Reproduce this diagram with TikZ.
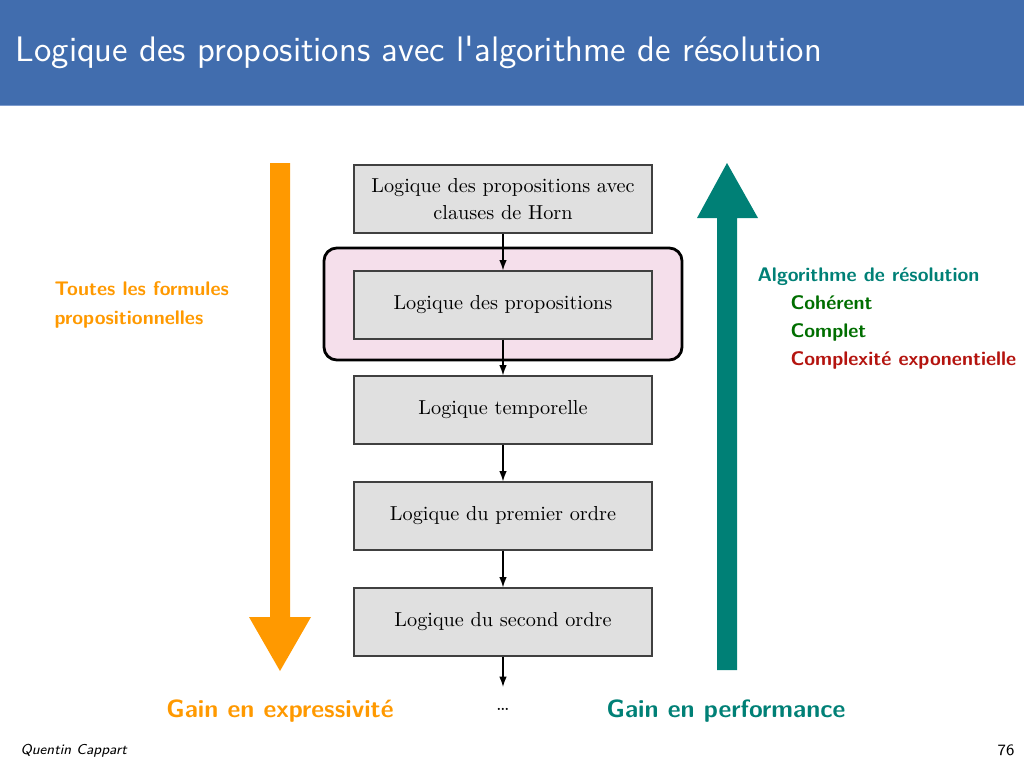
\documentclass[tikz,border=0pt]{standalone}
\usepackage{fontspec}
\usepackage{tikz}
\usetikzlibrary{arrows.meta}

\newfontfamily\boxfont{lmroman10-regular.otf}

\definecolor{barblue}{RGB}{65,109,174}
\definecolor{barline}{RGB}{125,155,205}
\definecolor{orangeA}{RGB}{255,153,0}
\definecolor{tealA}{RGB}{0,128,118}
\definecolor{greenA}{RGB}{0,110,0}
\definecolor{redA}{RGB}{180,20,15}
\definecolor{pinkbg}{RGB}{245,223,235}
\definecolor{boxgray}{RGB}{224,224,224}

\tikzset{
  logic/.style={draw=black!75, line width=0.4pt, fill=boxgray, minimum width=37.25mm,
    minimum height=8.5mm, align=center, font=\boxfont\fontsize{7.2}{9.6}\selectfont},
  flow/.style={-{Latex[length=1.3mm,width=0.95mm]}, line width=0.5pt},
  note/.style={anchor=base west, inner sep=0pt, align=left,
    font=\fontsize{7}{10}\selectfont\sffamily\bfseries},
  gain/.style={anchor=base, inner sep=0pt, font=\fontsize{8.9}{10}\selectfont\sffamily\bfseries},
}

\begin{document}
\begin{tikzpicture}[x=0.125mm, y=-0.125mm]
        \useasboundingbox (0,0) rectangle (1024,768);
        % title bar
        \fill[barblue] (0,0) rectangle (1024,105);
        \fill[barline] (0,104.5) rectangle (1024,106);
        \node[anchor=base west, inner sep=0pt, text=white, font=\fontsize{12.6}{14}\selectfont\sffamily]
                (title) at (15,62) {Logique des propositions avec l\textquotesingle algorithme de r\'esolution};

        % big arrows
        \fill[orangeA] (270,163) -- (290,163) -- (290,617) -- (311,617) -- (280,671)
                -- (249,617) -- (270,617) -- cycle;
        \fill[tealA] (717,670) -- (737,670) -- (737,218) -- (758,218) -- (727,163)
                -- (697,218) -- (717,218) -- cycle;

        % highlighted logic
        \draw[line width=1pt, rounded corners=1.6mm, fill=pinkbg] (324,248) rectangle (682,360);

        \node[logic] (horn) at (503,199) {Logique des propositions avec\\clauses de Horn};
        \node[logic] (prop) at (503,305) {Logique des propositions};
        \node[logic] (temp) at (503,410) {Logique temporelle};
        \node[logic] (first) at (503,516) {Logique du premier ordre};
        \node[logic] (second) at (503,622) {Logique du second ordre};
        \coordinate (more) at (503,687);
        \node[anchor=base, inner sep=0pt, font=\boxfont\fontsize{7.2}{9.6}\selectfont] (dots) at (503,710) {\dots};

        \draw[flow] (horn) -- (prop);
        \draw[flow] (prop) -- (temp);
        \draw[flow] (temp) -- (first);
        \draw[flow] (first) -- (second);
        \draw[flow] (second) -- (more);

        % side notes
        \node[note, text=orangeA] (all) at (54,324) {Toutes les formules\\propositionnelles};
        \node[note, text=tealA] (algo) at (757,281) {Algorithme de r\'esolution};
        \node[note, text=greenA] (sound) at (790,309) {Coh\'erent};
        \node[note, text=greenA] (complete) at (790,337) {Complet};
        \node[note, text=redA] (cost) at (790,365) {Complexit\'e exponentielle};

        \node[gain, text=orangeA] (expr) at (280,717) {Gain en expressivit\'e};
        \node[gain, text=tealA] (perf) at (726,717) {Gain en performance};

        % footer
        \node[anchor=base west, inner sep=0pt, font=\fontsize{5.1}{6}\selectfont\sffamily\itshape]
                (author) at (20,754) {Quentin Cappart};
        \node[anchor=base east, inner sep=0pt, font=\fontsize{5.6}{6}\selectfont\sffamily]
                (page) at (1015,755) {76};
\end{tikzpicture}
\end{document}
